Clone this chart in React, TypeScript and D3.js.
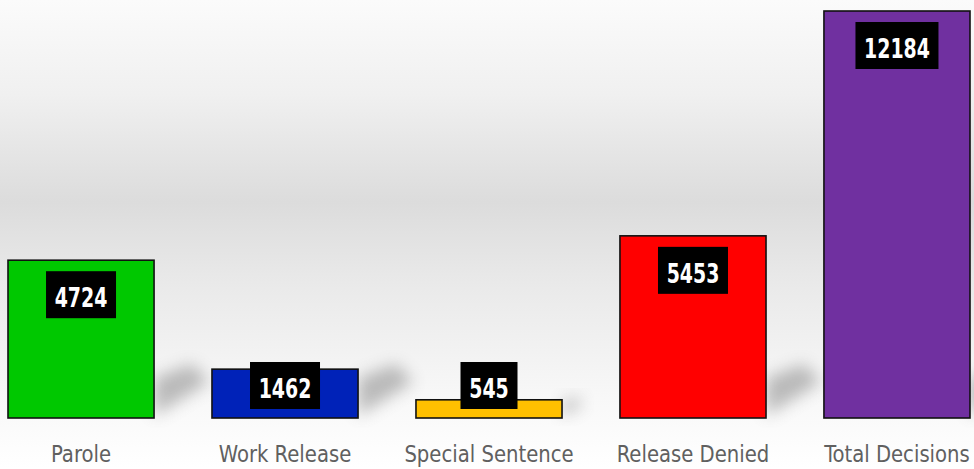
import React from "react";
import * as d3 from "d3";

const categories = ["Parole", "Work Release", "Special Sentence", "Release Denied", "Total Decisions"];
const values = [4724, 1462, 545, 5453, 12184];
const colors = ["#00c800", "#0022b8", "#ffc000", "#ff0000", "#7030a0"];

const W = 974;
const H = 469;
const baseline = 418;

export default function App() {
  const x = d3.scaleBand<string>().domain(categories).range([8, 970]).paddingInner(0.284).paddingOuter(0);
  const y = d3.scaleLinear().domain([0, d3.max(values) as number]).range([baseline, 11]);
  const bw = x.bandwidth();
  const labelFont = "'DejaVu Sans Condensed', 'DejaVu Sans', sans-serif";

  return (
    <svg width={W} height={H} style={{ position: "absolute", left: 0, top: 0 }}>
      <defs>
        <linearGradient id="bg" x1="0" y1="0" x2="0" y2="1">
          <stop offset="0" stopColor="#fbfbfb" />
          <stop offset="0.2" stopColor="#f0f0f0" />
          <stop offset="0.43" stopColor="#dcdcdc" />
          <stop offset="0.6" stopColor="#e9e9e9" />
          <stop offset="0.85" stopColor="#f8f8f8" />
          <stop offset="1" stopColor="#ffffff" />
        </linearGradient>
        <filter id="blur" x="-50%" y="-50%" width="200%" height="200%">
          <feGaussianBlur stdDeviation="8" />
        </filter>
      </defs>
      <rect x={0} y={0} width={W} height={H} fill="url(#bg)" />
      {categories.map((c, i) => {
        const x1 = (x(c) as number) + bw;
        const h = baseline - y(values[i]);
        const s = Math.min(h, 48) / 48;
        return (
          <polygon
            key={"s" + c}
            points={`${x1},${baseline - 2} ${x1},${baseline - 40 * s} ${x1 + 38 * s},${baseline - 54 * s} ${x1 + 55 * s},${baseline - 36 * s}`}
            fill="#707070"
            opacity={0.45}
            filter="url(#blur)"
          />
        );
      })}
      {categories.map((c, i) => (
        <rect
          key={"b" + c}
          x={x(c)}
          y={y(values[i])}
          width={bw}
          height={baseline - y(values[i])}
          fill={colors[i]}
          stroke="#111"
          strokeWidth={1.6}
        />
      ))}
      {categories.map((c, i) => {
        const txt = String(values[i]);
        const bwid = 18 + txt.length * 13;
        const by = Math.min(y(values[i]) + 11, baseline - 56);
        const cx = (x(c) as number) + bw / 2;
        return (
          <g key={"l" + c}>
            <rect x={cx - bwid / 2} y={by} width={bwid} height={47} fill="#000" />
            <text
              transform={`translate(${cx},${by + 36}) scale(0.78,1)`}
              textAnchor="middle"
              fill="#fff"
              fontFamily={labelFont}
              fontWeight="bold"
              fontSize={27}
            >
              {txt}
            </text>
          </g>
        );
      })}
      {categories.map((c) => (
        <text
          key={"c" + c}
          transform={`translate(${(x(c) as number) + bw / 2},462) scale(0.95,1)`}
          textAnchor="middle"
          fill="#606060"
          fontFamily={labelFont}
          fontSize={23}
        >
          {c}
        </text>
      ))}
    </svg>
  );
}
